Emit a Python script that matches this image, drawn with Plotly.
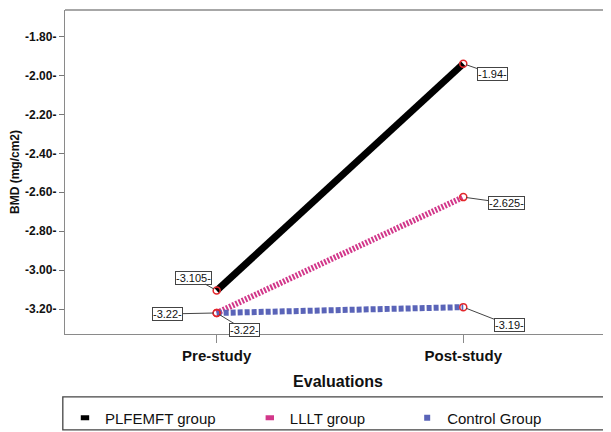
import plotly.graph_objects as go

categories = ["Pre-study", "Post-study"]
plfemft = [-3.105, -1.94]
lllt = [-3.22, -2.625]
control = [-3.22, -3.19]
label_plfemft = ["-3.105-", "-1.94-"]
label_lllt = ["-3.22-", "-2.625-"]
label_control = ["-3.22-", "-3.19-"]
tick_vals = [-3.20, -3.00, -2.80, -2.60, -2.40, -2.20, -2.00, -1.80]
tick_text = ["%.2f-" % v for v in tick_vals]

FONT = "Liberation Sans, Arial, sans-serif"
BLACK = "#000000"
PINK = "#d2378a"
BLUE = "#5a64b8"

fig = go.Figure()

series = [
    ("PLFEMFT group", plfemft, BLACK, 7, "solid"),
    ("LLLT group", lllt, PINK, 6, "2px,1.5px"),
    ("Control Group", control, BLUE, 6, "5px,2px"),
]
for name, vals, col, w, dash in series:
    fig.add_trace(go.Scatter(
        x=categories, y=vals, mode="lines", name=name,
        line=dict(color=col, width=w, dash=dash), showlegend=False,
        hoverinfo="skip"))

# point markers (red open circles)
for name, vals, col, w, dash in series:
    fig.add_trace(go.Scatter(
        x=categories, y=vals, mode="markers", showlegend=False,
        marker=dict(symbol="circle-open", size=7, color="#e3262b",
                    line=dict(width=1.5, color="#e3262b"))))

# legend entries (three separate legends placed along one box)
legend_items = [
    ("PLFEMFT group", dict(symbol="line-ew", size=6, line=dict(width=5, color=BLACK)), "legend"),
    ("LLLT group", dict(symbol="line-ew", size=6, line=dict(width=5, color=PINK)), "legend2"),
    ("Control Group", dict(symbol="square", size=6, color=BLUE, line=dict(width=0)), "legend3"),
]
for name, mk, lg in legend_items:
    fig.add_trace(go.Scatter(x=[None], y=[None], mode="markers", name=name,
                             marker=mk, legend=lg, showlegend=True))

# data labels with leader lines
offsets = {
    "plf": [(-23, -13), (29, 10)],
    "lllt": [(-49, 1), (43, 6)],
    "ctl": [(28, 17), (46, 18)],
}
for key, vals, labels in [("plf", plfemft, label_plfemft),
                          ("lllt", lllt, label_lllt),
                          ("ctl", control, label_control)]:
    for i in range(2):
        ax, ay = offsets[key][i]
        fig.add_annotation(
            x=categories[i], y=vals[i], text=labels[i],
            showarrow=True, arrowhead=0, arrowwidth=1, arrowcolor="#444444",
            ax=ax, ay=ay, standoff=3,
            font=dict(family=FONT, size=11, color="#111111"),
            bgcolor="white", bordercolor="#444444", borderwidth=1, borderpad=0)

# top frame line of the plot area
fig.add_shape(type="line", xref="paper", yref="paper",
              x0=0, x1=1.02, y0=1, y1=1,
              line=dict(color="#8a8a8a", width=1.3), layer="above")

# legend frame
fig.add_shape(type="rect", xref="paper", yref="paper",
              x0=-0.004, x1=0.989, y0=-0.296, y1=-0.194,
              line=dict(color="#444444", width=1.3), layer="above")

leg_common = dict(orientation="h", xanchor="left", yanchor="middle",
                  xref="container", yref="container",
                  bgcolor="rgba(0,0,0,0)", borderwidth=0,
                  font=dict(family=FONT, size=15, color="#111111"))

fig.update_layout(
    width=603, height=424,
    margin=dict(l=57, r=0, t=2, b=98, autoexpand=False),
    paper_bgcolor="white", plot_bgcolor="white",
    font=dict(family=FONT),
    legend=dict(x=0.0945, y=0.033, **leg_common),
    legend2=dict(x=0.401, y=0.033, **leg_common),
    legend3=dict(x=0.662, y=0.033, **leg_common),
    xaxis=dict(
        type="category", categoryorder="array", categoryarray=categories,
        range=[-0.615, 1.599], showgrid=False, zeroline=False,
        showline=True, linecolor="#8a8a8a", linewidth=1.3, mirror=False,
        ticks="outside", ticklen=8, tickcolor="#8a8a8a",
        tickfont=dict(family=FONT, size=15, color="#111111", weight="bold"),
        title=dict(text="Evaluations", standoff=12,
                   font=dict(family=FONT, size=16, color="#111111", weight="bold")),
    ),
    yaxis=dict(
        range=[-3.328, -1.664], tickvals=tick_vals, ticktext=tick_text,
        showgrid=False, zeroline=False,
        showline=True, linecolor="#8a8a8a", linewidth=1.3,
        ticks="outside", ticklen=5, tickcolor="#777777",
        tickfont=dict(family=FONT, size=12, color="#111111", weight="bold"),
        title=dict(text="BMD (mg/cm2)", standoff=5,
                   font=dict(family=FONT, size=12, color="#111111", weight="bold")),
    ),
)

fig.write_html("out.html")
